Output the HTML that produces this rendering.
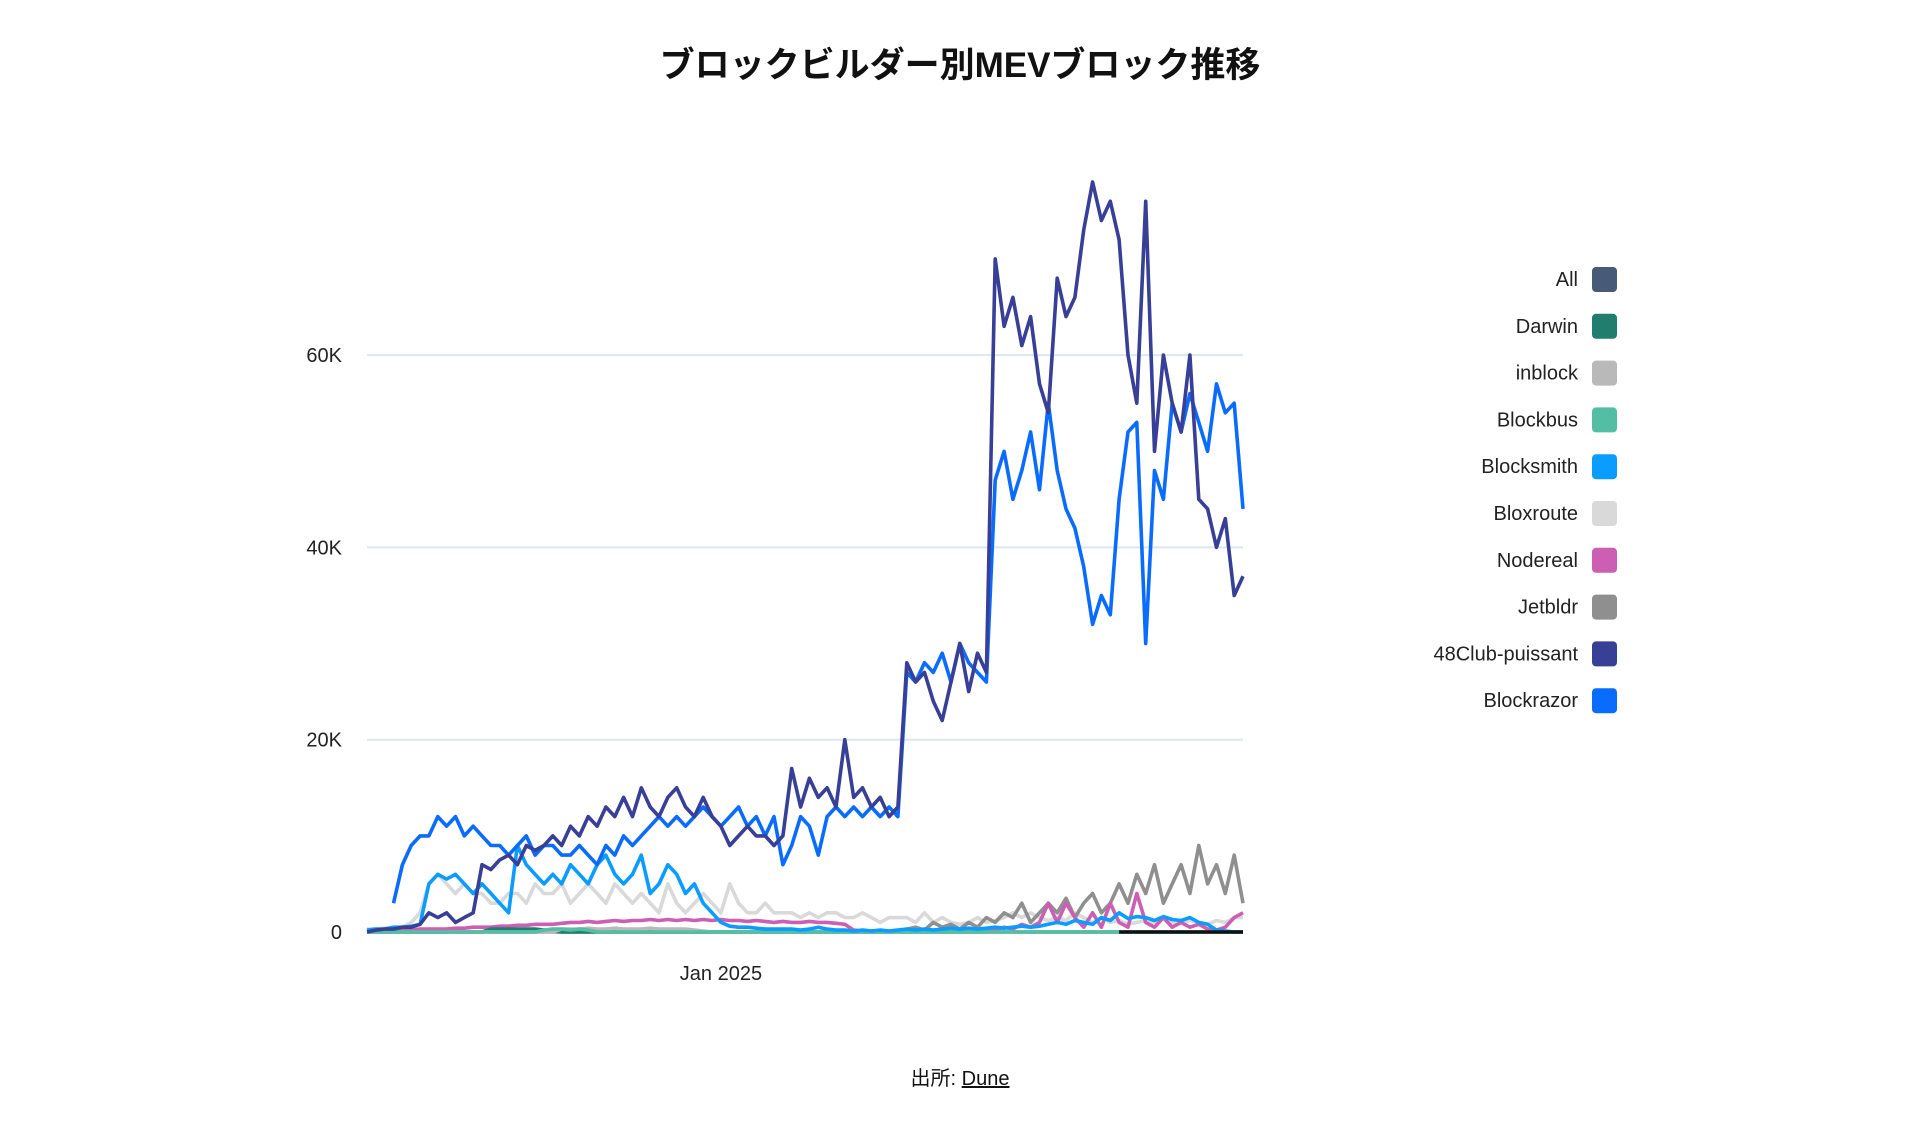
<!DOCTYPE html>
<html><head><meta charset="utf-8"><style>
body{margin:0;background:#fff;width:1920px;height:1135px;overflow:hidden;font-family:"Liberation Sans","Noto Sans CJK JP",sans-serif}
svg{position:absolute;left:0;top:0}
</style></head><body>
<svg id="chart" width="1920" height="1135">
<text x="960" y="77" text-anchor="middle" font-size="35" font-weight="600" fill="#111" font-family="'Liberation Sans','Noto Sans CJK JP',sans-serif">ブロックビルダー別MEVブロック推移</text>
<g id="grid"></g>
<g id="series"></g>
<g id="legend"></g>
<text x="960" y="1085" text-anchor="middle" font-size="20" fill="#111" font-family="'Liberation Sans','Noto Sans CJK JP',sans-serif">出所: <tspan text-decoration="underline">Dune</tspan></text>
</svg>
<script>
const yTicks=[0,20,40,60];
const yTickLabels=["0","20K","40K","60K"];
const xTickIndex=[40];
const xTickLabels=["Jan 2025"];
const seriesNames=["All","Darwin","inblock","Blockbus","Blocksmith","Bloxroute","Nodereal","Jetbldr","48Club-puissant","Blockrazor"];
const seriesColors=["#475a78","#217d6e","#b9b9b9","#54bea5","#0a9cff","#d9d9d9","#cc5fb3","#8f8f8f","#383f96","#0a6cff"];
const club48=[0,0.2,0.3,0.3,0.5,0.5,0.8, 2,1.5,2,1,1.5,2, 7,6.5,7.5,8,7,9,8.5,9, 10,9,11,10,12,11,13,12,14,12, 15,13,12,14,15,13,12,14, 12,11,9,10,11,10,10,9,10, 17,13,16,14,15,13, 20,14,15,13,14,12,13, 28,26,27,24,22,26,30,25,29,27, 70,63,66,61,64,57,54, 68,64,66,73, 78,74,76,72,60,55, 76,50,60,55, 52,60,45,44,40,43,35,37];
const blockrazor=[null,null,null, 3,7,9,10, 10,12,11,12,10,11, 10,9,9,8,9,10,8,9, 9,8,8,9,8,7,9,8,10,9, 10,11,12,11,12,11,12,13, 12,11,12,13,11,12,10,12,7, 9,12,11,8,12,13, 12,13,12,13,12,13,12, 27,26,28,27,29,26,30,28,27,26, 47,50,45,48,52,46,55, 48,44,42,38, 32,35,33,45,52,53, 30,48,45,55, 52,56,53,50,57,54,55,44];
const blocksmith=[0.2,0.3,0.3,0.5,0.5,0.6,0.8, 5,6,5.5,6,5,4, 5,4,3,2,9,7,6,5, 6,5,7,6,5,7,8,6,5,6, 8,4,5,7,6,4,5,3, 2,1,0.6,0.5,0.5,0.4,0.3,0.3,0.3, 0.3,0.2,0.3,0.5,0.3,0.2, 0.2,0.1,0.2,0.1,0.2,0.1,0.2, 0.3,0.2,0.3,0.2,0.3,0.4,0.3,0.4,0.3,0.4, 0.5,0.4,0.5,0.6,0.5,0.6,0.8, 1,0.8,1.2,1, 0.8,1.5,1.2,2,1.4,1.6, 1.5,1.2,1.6,1.3, 1.2,1.5,1,0.8,0.2,0.1,0,0];
const bloxroute=[0.3,0.3,0.4,0.5,0.5,1,2, 5,6,5,4,5,4, 4,3,3,4,4,3,5,4, 4,5,3,4,5,4,3,5,4,3, 4,3,2,5,3,2,3,4, 3,2,5,3,2,2,3,2,2, 2,1.5,2,1.5,2,2, 1.5,1.5,2,1.5,1,1.5,1.5, 1.5,1,2,1,1.5,1,0.8,1,1.5,1, 1.2,1.5,2,1.5,2,1.5,1.2, 1.5,1.2,2,1.5, 1,1.5,1,1.2,0.8,1, 1.2,1,1.5,1, 1,1.2,1,0.8,1.2,1,1.5,1.5];
const jetbldr=[0,0,0,0,0,0,0,0,0,0, 0,0,0,0,0,0,0,0,0,0, 0,0,0,0,0,0,0,0,0,0, 0,0,0,0,0,0,0,0,0,0, 0,0,0,0,0,0,0,0,0,0, 0,0,0,0,0,0,0,0,0,0, 0.1, 0.3,0.5,0.2,1,0.5,0.8,0.3,1,0.5,1.5, 1,2,1.5,3,1,2,3, 2,3.5,1.5,3, 4,2,3,5,3,6, 4,7,3,5, 7,4,9,5,7,4,8,3];
const nodereal=[0,0,0.1,0.1,0.2,0.2,0.3,0.3,0.3,0.3,0.4,0.4,0.5, 0.5,0.5,0.6,0.6,0.7,0.7,0.8,0.8, 0.8,0.9,1,1,1.1,1,1.1,1.2,1.1,1.2, 1.2,1.3,1.2,1.3,1.2,1.3,1.2,1.3, 1.2,1.3,1.2,1.2,1.1,1.2,1.1,1,1.1, 1,1,1.1,1,1,0.9, 0.8,0.2,0.1,0.1,0.1,0.1,0.1, 0.1,0,0.1,0,0.1,0.1,0.2,0.1,0.2,0.3, 0.2,0.5,0.3,0.8,0.5,1,3, 1,3,1.5,0.5, 2,0.5,3,1,0.5,4, 1,0.5,1.5,0.5, 1,0.5,0.8,0.3,0.2,0.5,1.5,2];
const darwin=[0,0,0,0,0,0,0,0,0,0, 0,0,0,0,0.3,0.3,0.3,0.3,0.3,0.3, 0.2,0.1,0,0,0,0,0,0,0,0, 0,0,0,0,0,0,0,0,0,0, 0,0,0,0,0,0,0,0,0,0, 0,0,0,0,0,0,0,0,0,0, 0,0,0,0,0,0,0,0,0,0, 0,0,0,0,0,0,0,0,0,0, 0,0,0,0,0,0,0,0,0,0, 0,0,0,0,0,0,0,0,0,0];
const inblock=[0,0,0,0,0,0,0,0,0,0, 0,0,0,0,0,0,0,0,0,0, 0,0,0.3,0.3,0.3,0.4,0.3,0.3,0.4,0.3, 0.3,0.3,0.4,0.3,0.3,0.3,0.3,0.2,0.1,0, 0,0,0,0,0,0,0,0,0,0, 0,0,0,0,0,0,0,0,0,0, 0,0,0,0,0,0,0,0,0,0, 0,0,0,0,0,0,0,0,0,0, 0,0,0,0,0,0,0,0,0,0, 0,0,0,0,0,0,0,0,0,0];
const blockbus=[0,0,0,0,0,0,0,0,0,0, 0,0,0,0,0,0,0,0,0,0, 0.2,0.3,0.3,0.2,0.3,0.2,0,0,0,0, 0,0,0,0,0,0,0,0,0,0, 0,0,0,0,0,0,0,0,0,0, 0,0,0,0,0,0,0,0,0,0, 0,0,0,0,0,0,0,0,0,0, 0,0,0,0,0,0,0,0,0,0, 0,0,0,0,0,0,0,0,0,0, 0,0,0,0,0,0,0,0,0,0];
const allSeries=[null,null,null,null,null,null,null,null,null,null, null,null,null,null,null,null,null,null,null,null, null,null,null,null,null,null,null,null,null,null, null,null,null,null,null,null,null,null,null,null, null,null,null,null,null,null,null,null,null,null, null,null,null,null,null,null,null,null,null,null, null,null,null,null,null,null,null,null,null,null, null,null,null,null,null,null,null,null,null,null, null,null,null,null,null,0,0,0,0,0, 0,0,0,0,0,0,0,0,0,0];

const NS='http://www.w3.org/2000/svg';
const L=367,R=1243,Y0=932,PER=192.3/20;
const N=club48.length;
const xS=i=>L+(R-L)*i/(N-1);
const yS=v=>Y0-v*PER;
function mk(tag,attrs,parent){const e=document.createElementNS(NS,tag);for(const k in attrs)e.setAttribute(k,attrs[k]);parent.appendChild(e);return e;}
const grid=document.getElementById('grid');
yTicks.forEach((t,i)=>{
  if(t>0){const ln=mk('line',{x1:L,x2:R,y1:yS(t),y2:yS(t),stroke:'#dbe6f6','stroke-width':2},grid);
  
  }
  const tx=mk('text',{x:342,y:yS(t)+7,'text-anchor':'end','font-size':20,fill:'#222'},grid);
  tx.textContent=yTickLabels[i];
  
  
});
xTickIndex.forEach((ix,i)=>{
  const tx=mk('text',{x:xS(ix),y:980,'text-anchor':'middle','font-size':20,fill:'#222'},grid);
  tx.textContent=xTickLabels[i];
  
  
});
const sg=document.getElementById('series');
const data={Darwin:darwin,inblock:inblock,Blockbus:blockbus,Bloxroute:bloxroute,Jetbldr:jetbldr,Nodereal:nodereal,Blocksmith:blocksmith,Blockrazor:blockrazor,"48Club-puissant":club48,All:allSeries};
["Bloxroute","Jetbldr","Nodereal","Darwin","inblock","Blockbus","Blocksmith","Blockrazor","48Club-puissant","All"].forEach(name=>{
  const arr=data[name];const col=seriesColors[seriesNames.indexOf(name)];
  let d='',pen=false;
  arr.forEach((v,i)=>{if(v===null){pen=false;return;}d+=(pen?'L':'M')+xS(i).toFixed(1)+','+yS(v).toFixed(1);pen=true;});
  const p=mk('path',{d:d,fill:'none',stroke:name==='All'?'#111':col,'stroke-width':3.6,'stroke-linejoin':'round'},sg);
  
  
});
const lg=document.getElementById('legend');
seriesNames.forEach((n,i)=>{
  const y=279+i*46.8;
  const t=mk('text',{x:1578,y:y+7,'text-anchor':'end','font-size':20,fill:'#222'},lg);
  t.textContent=n;
  
  
  const r=mk('rect',{x:1592,y:y-12,width:25,height:25,rx:4,fill:seriesColors[i]},lg);
  
  
});
</script>
</body></html>
